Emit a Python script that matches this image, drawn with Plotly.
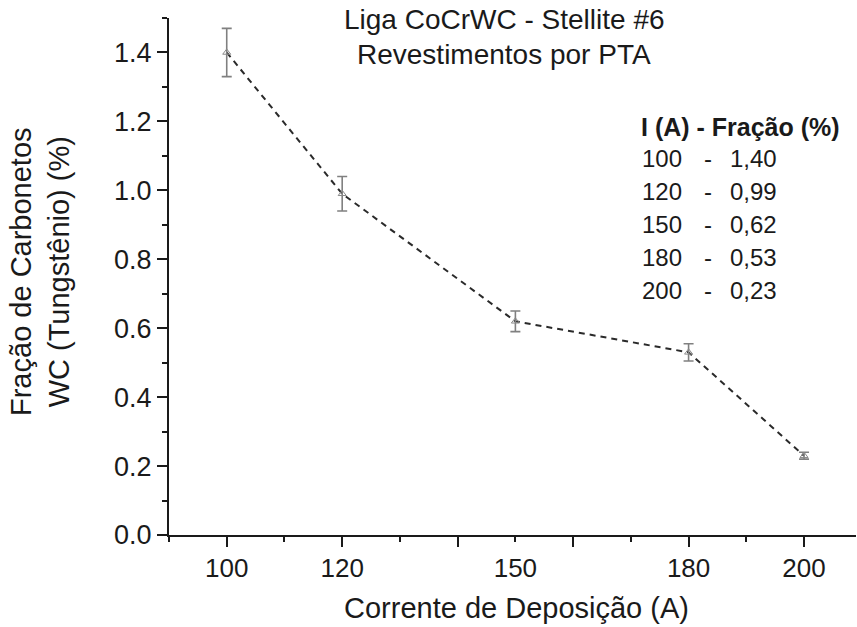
import plotly.graph_objects as go

# ---- data ----
corrente = [100, 120, 150, 180, 200]
fracao = [1.40, 0.99, 0.62, 0.53, 0.23]
erro = [0.07, 0.05, 0.03, 0.025, 0.01]
x_ticklabels = ["100", "120", "150", "180", "200"]
x_tickvals = [100, 120, 150, 180, 200]
titulo = ["Liga CoCrWC - Stellite #6", "Revestimentos por PTA"]
tabela_cab = "I (A) - Fração (%)"
x_titulo = "Corrente de Deposição (A)"
y_titulo = "Fração de Carbonetos<br>WC (Tungstênio) (%)"

FONT = "Arial, Liberation Sans, sans-serif"
W, H = 857, 627
ML, MR, MT, MB = 169, 1, 18, 92
PW, PH = W - ML - MR, H - MT - MB


def px_x(p):
    return (p - ML) / PW


def px_y(p):
    return (H - MB - p) / PH


fig = go.Figure()

# dashed connecting line
fig.add_trace(go.Scatter(
    x=corrente, y=fracao, mode="lines",
    line=dict(color="#2a2a2a", width=2, dash="6px,5px"),
    hoverinfo="skip", showlegend=False,
))
# points with error bars
fig.add_trace(go.Scatter(
    x=corrente, y=fracao, mode="markers",
    marker=dict(symbol="triangle-up-open", size=7, color="#8a8a8a",
                line=dict(width=1, color="#8a8a8a")),
    error_y=dict(type="data", array=erro, visible=True, color="#808080",
                 thickness=1.6, width=5),
    showlegend=False,
))
# invisible trace for label axis
fig.add_trace(go.Scatter(
    x=corrente, y=fracao, xaxis="x2", mode="markers",
    marker=dict(opacity=0), hoverinfo="skip", showlegend=False,
))

fig.update_layout(
    width=W, height=H,
    margin=dict(l=ML, r=MR, t=MT, b=MB),
    paper_bgcolor="white", plot_bgcolor="white",
    font=dict(family=FONT, color="#1a1a1a"),
    xaxis=dict(
        range=[90, 209], showgrid=False, zeroline=False,
        showline=True, linecolor="#1a1a1a", linewidth=2,
        tickmode="linear", tick0=100, dtick=20,
        ticks="outside", ticklen=10, tickwidth=2, tickcolor="#1a1a1a",
        showticklabels=False,
        minor=dict(tickmode="linear", tick0=100, dtick=10, ticks="outside",
                   ticklen=5, tickwidth=2, tickcolor="#1a1a1a"),
    ),
    xaxis2=dict(
        overlaying="x", side="bottom", matches="x", range=[90, 209],
        showgrid=False, zeroline=False, showline=False,
        tickmode="array", tickvals=x_tickvals, ticktext=x_ticklabels,
        ticks="outside", ticklen=10, tickcolor="rgba(0,0,0,0)",
        tickfont=dict(size=26, family=FONT, color="#1a1a1a"),
    ),
    yaxis=dict(
        range=[0, 1.5], showgrid=False, zeroline=False,
        showline=True, linecolor="#1a1a1a", linewidth=2,
        tickmode="linear", tick0=0, dtick=0.2, tickformat=".1f",
        ticks="outside", ticklen=10, tickwidth=2, tickcolor="#1a1a1a",
        tickfont=dict(size=27, family=FONT, color="#1a1a1a"),
        minor=dict(tickmode="linear", tick0=0, dtick=0.1, ticks="outside",
                   ticklen=5, tickwidth=2, tickcolor="#1a1a1a"),
    ),
)

ann = []
# title lines
for t, yy in zip(titulo, [20, 54]):
    ann.append(dict(text=t, x=px_x(504), y=px_y(yy), xref="paper", yref="paper",
                    xanchor="center", yanchor="middle", showarrow=False,
                    font=dict(size=28, family=FONT, color="#1a1a1a")))
# table header
ann.append(dict(text="<b>" + tabela_cab + "</b>", x=px_x(639), y=px_y(127),
                xref="paper", yref="paper", xanchor="left", yanchor="middle",
                showarrow=False, font=dict(size=25, family=FONT, color="#1a1a1a")))
# table rows
row_y = [158, 191, 224, 257, 290]
for c, f, yy in zip(corrente, fracao, row_y):
    ann.append(dict(text=str(c), x=px_x(640), y=px_y(yy), xref="paper", yref="paper",
                    xanchor="left", yanchor="middle", showarrow=False,
                    font=dict(size=24, family=FONT, color="#1a1a1a")))
    ann.append(dict(text="-", x=px_x(708), y=px_y(yy), xref="paper", yref="paper",
                    xanchor="center", yanchor="middle", showarrow=False,
                    font=dict(size=24, family=FONT, color="#1a1a1a")))
    ann.append(dict(text=f"{f:.2f}".replace(".", ","), x=px_x(779), y=px_y(yy),
                    xref="paper", yref="paper", xanchor="right", yanchor="middle",
                    showarrow=False, font=dict(size=24, family=FONT, color="#1a1a1a")))
# axis titles
ann.append(dict(text=x_titulo, x=px_x(516), y=px_y(608), xref="paper", yref="paper",
                xanchor="center", yanchor="middle", showarrow=False,
                font=dict(size=29, family=FONT, color="#1a1a1a")))
ann.append(dict(text=y_titulo, x=px_x(40), y=px_y(272), xref="paper", yref="paper",
                xanchor="center", yanchor="middle", showarrow=False, textangle=-90,
                font=dict(size=29, family=FONT, color="#1a1a1a")))
fig.update_layout(annotations=ann)

fig.write_html("out.html", config={"displayModeBar": False},
               post_script="document.body.style.margin='0px';document.body.style.overflow='hidden';")
